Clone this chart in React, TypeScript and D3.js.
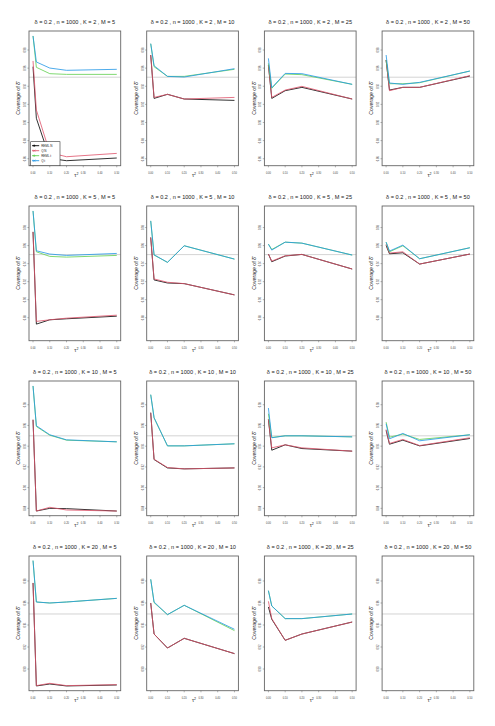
import React from 'react';
import * as d3 from 'd3';

const tau2 = [0, 0.02, 0.1, 0.2, 0.5];
const xTicks = [0, 0.1, 0.2, 0.3, 0.4, 0.5];
const Ks = [2, 5, 10, 20];
const Ms = [5, 10, 25, 50];
const methods = ['REML.N', 'Q.N', 'REML.t', 'Q.t'];
const COLORS = ['#000000', '#DF536B', '#61D04F', '#2297E6'];
const nominal = 0.95;

// y range and ticks for each row (one row per K)
const yDomains = [[0.8523, 1.001], [0.8545, 1.0039], [0.8729, 1.0029], [0.8803, 1.0027]];
const yTicks = [
  [0.86, 0.88, 0.9, 0.92, 0.94, 0.96, 0.98],
  [0.88, 0.9, 0.92, 0.94, 0.96, 0.98],
  [0.88, 0.9, 0.92, 0.94, 0.96, 0.98],
  [0.9, 0.92, 0.94, 0.96, 0.98],
];

// coverage[K][M] over tau2, one array per method (null = not run)
const remlN = [
  [[0.9616, 0.9046, 0.8604, 0.8578, 0.8608], [0.9745, 0.9266, 0.9311, 0.9259, 0.9244], [0.9634, 0.9266, 0.9351, 0.9388, 0.9259], [0.969, 0.9358, 0.9388, 0.9388, 0.9513]],
  [[0.9752, 0.8729, 0.8777, 0.8788, 0.8817], [0.969, 0.9219, 0.9185, 0.9178, 0.9053], [0.9506, 0.9421, 0.9484, 0.9502, 0.934], [0.9601, 0.9509, 0.952, 0.9395, 0.9506]],
  [[0.9655, 0.8774, 0.88, 0.8797, 0.8774], [0.9723, 0.9271, 0.919, 0.9181, 0.919], [0.9658, 0.9361, 0.9413, 0.9377, 0.9352], [0.9552, 0.9419, 0.9458, 0.9403, 0.9474]],
  [[0.9782, 0.8846, 0.8864, 0.8846, 0.8855], [0.96, 0.9318, 0.9191, 0.9279, 0.914], [0.9564, 0.9452, 0.9261, 0.9318, 0.9427], null],
];
const qN = [
  [[0.9679, 0.9138, 0.8667, 0.8622, 0.8659], [0.9745, 0.9277, 0.9311, 0.9259, 0.9277], [0.9634, 0.9277, 0.9358, 0.9399, 0.9259], [0.969, 0.9351, 0.9388, 0.9388, 0.9517]],
  [[0.9752, 0.8759, 0.8777, 0.8795, 0.8828], [0.969, 0.923, 0.9193, 0.9178, 0.9053], [0.9506, 0.9428, 0.9487, 0.9502, 0.934], [0.9616, 0.9517, 0.9531, 0.9395, 0.9506]],
  [[0.9655, 0.8774, 0.881, 0.8784, 0.8774], [0.9723, 0.9274, 0.9194, 0.9181, 0.919], [0.9658, 0.9384, 0.9413, 0.9384, 0.9352], [0.9561, 0.9426, 0.9465, 0.9406, 0.9481]],
  [[0.9782, 0.8849, 0.887, 0.8849, 0.8858], [0.96, 0.9318, 0.9191, 0.9279, 0.914], [0.9615, 0.9458, 0.9261, 0.9318, 0.9427], null],
];
const remlT = [
  [[0.9955, 0.9609, 0.9539, 0.9531, 0.9531], [0.987, 0.9616, 0.9509, 0.9509, 0.9587], [0.9653, 0.9377, 0.9535, 0.9528, 0.9421], [0.969, 0.9428, 0.9428, 0.9439, 0.9568]],
  [[0.9984, 0.9531, 0.948, 0.9472, 0.9491], [0.9874, 0.9495, 0.9414, 0.9598, 0.945], [0.9616, 0.9557, 0.9638, 0.9627, 0.9495], [0.9638, 0.9531, 0.9598, 0.9454, 0.9576]],
  [[0.9981, 0.959, 0.9506, 0.9458, 0.9442], [0.9897, 0.9674, 0.9403, 0.9403, 0.9423], [0.9713, 0.9484, 0.95, 0.95, 0.949], [0.9632, 0.9487, 0.9516, 0.9465, 0.951]],
  [[0.9985, 0.9609, 0.96, 0.9609, 0.9642], [0.9815, 0.9603, 0.9494, 0.9579, 0.9349], [0.9712, 0.9573, 0.9458, 0.9458, 0.95], null],
];
const qT = [
  [[0.9955, 0.9668, 0.9601, 0.9576, 0.9587], [0.987, 0.9627, 0.9509, 0.9502, 0.9594], [0.9708, 0.9384, 0.9542, 0.9539, 0.9421], [0.9745, 0.9436, 0.9421, 0.9443, 0.9568]],
  [[0.9984, 0.9542, 0.9506, 0.9491, 0.9513], [0.9874, 0.9498, 0.9414, 0.9598, 0.945], [0.9616, 0.955, 0.9638, 0.9627, 0.9495], [0.9638, 0.9539, 0.9605, 0.9454, 0.9576]],
  [[0.9981, 0.9597, 0.951, 0.9461, 0.9442], [0.9897, 0.9674, 0.9403, 0.9403, 0.9423], [0.9768, 0.9481, 0.95, 0.95, 0.949], [0.9616, 0.9471, 0.9523, 0.9452, 0.951]],
  [[0.9985, 0.9609, 0.96, 0.9609, 0.9642], [0.9815, 0.9609, 0.9494, 0.9579, 0.9361], [0.9712, 0.9573, 0.9458, 0.9458, 0.95], null],
];
const series = [remlN, qN, remlT, qT];

const W = 91.7;
const H = 134.7;
const LEFT0 = 29;
const COL_STEP = 117.7;
const TOP0 = 31;
const ROW_STEP = 175;
const FONT = 'Liberation Sans, Arial, sans-serif';

function Panel({ r, c }: { r: number; c: number }) {
  const left = LEFT0 + c * COL_STEP;
  const top = TOP0 + r * ROW_STEP;
  const x = d3.scaleLinear().domain([-0.024, 0.5235]).range([left, left + W]);
  const y = d3.scaleLinear().domain(yDomains[r]).range([top + H, top]);
  const line = d3.line<number>().x((_, i) => x(tau2[i])).y(d => y(d));
  const cx = left + W / 2;
  const cy = top + H / 2;

  return (
    <g>
      <text x={cx} y={top - 7.5} fontSize={5.6} textAnchor="middle" fill="#222">
        {`δ = 0.2 , n = 1000 , K = ${Ks[r]} , M = ${Ms[c]}`}
      </text>
      <line x1={left} x2={left + W} y1={y(nominal)} y2={y(nominal)} stroke="#cfcfcf" strokeWidth={0.9} />
      {series.map((s, m) => {
        const vals = s[r][c];
        if (!vals) return null;
        return (
          <path key={m} d={line(vals) || ''} fill="none" stroke={COLORS[m]} strokeWidth={0.95}
            strokeOpacity={0.85} strokeLinejoin="round" />
        );
      })}
      <rect x={left} y={top} width={W} height={H} fill="none" stroke="#666" strokeWidth={0.9} />
      {yTicks[r].map(t => (
        <g key={t}>
          <line x1={left - 1.6} x2={left} y1={y(t)} y2={y(t)} stroke="#666" strokeWidth={0.5} />
          <text transform={`translate(${left - 3.2},${y(t)}) rotate(-90)`} fontSize={2.6}
            textAnchor="middle" fill="#444">{t.toFixed(2)}</text>
        </g>
      ))}
      {xTicks.map(t => (
        <g key={t}>
          <line x1={x(t)} x2={x(t)} y1={top + H} y2={top + H + 1.6} stroke="#666" strokeWidth={0.5} />
          <text x={x(t)} y={top + H + 7.8} fontSize={2.6} textAnchor="middle" fill="#444">{t.toFixed(2)}</text>
        </g>
      ))}
      <text x={cx + 1.5} y={top + H + 11.6} fontSize={5.4} textAnchor="middle" fill="#222">
        τ<tspan dy={-2} fontSize={3.6}>2</tspan>
      </text>
      <text transform={`translate(${left - 8.7},${cy}) rotate(-90)`} fontSize={5.2} textAnchor="middle" fill="#222">
        Coverage of δ̂
      </text>
      {r === 0 && c === 0 && <Legend left={left + 1.7} bottom={top + H} />}
    </g>
  );
}

function Legend({ left, bottom }: { left: number; bottom: number }) {
  const w = 29.3;
  const h = 24;
  const top = bottom - h;
  return (
    <g>
      <rect x={left} y={top} width={w} height={h} fill="#fff" stroke="#333" strokeWidth={0.6} />
      {methods.map((name, i) => {
        const yy = top + 4 + i * 5;
        const mx = left + 3.5;
        return (
          <g key={name}>
            <line x1={left + 1.3} x2={left + 8.5} y1={yy} y2={yy} stroke={COLORS[i]} strokeWidth={0.9} />
            {i % 2 === 0 ? (
              <path d={`M${mx - 1.2},${yy}h2.4M${mx},${yy - 1.2}v2.4`} stroke={COLORS[i]} strokeWidth={0.7} />
            ) : (
              <path d={`M${mx - 1},${yy - 1}l2,2M${mx - 1},${yy + 1}l2,-2`} stroke={COLORS[i]} strokeWidth={0.7} />
            )}
            <text x={left + 10.5} y={yy + 1} fontSize={3} fill="#222">{name}</text>
          </g>
        );
      })}
    </g>
  );
}

export default function App() {
  return (
    <svg width={495} height={726} style={{ position: 'absolute', left: 0, top: 0, background: '#fff' }}
      fontFamily={FONT}>
      <rect width={495} height={726} fill="#fff" />
      {Ks.map((_, r) => Ms.map((__, c) => <Panel key={`${r}-${c}`} r={r} c={c} />))}
    </svg>
  );
}
